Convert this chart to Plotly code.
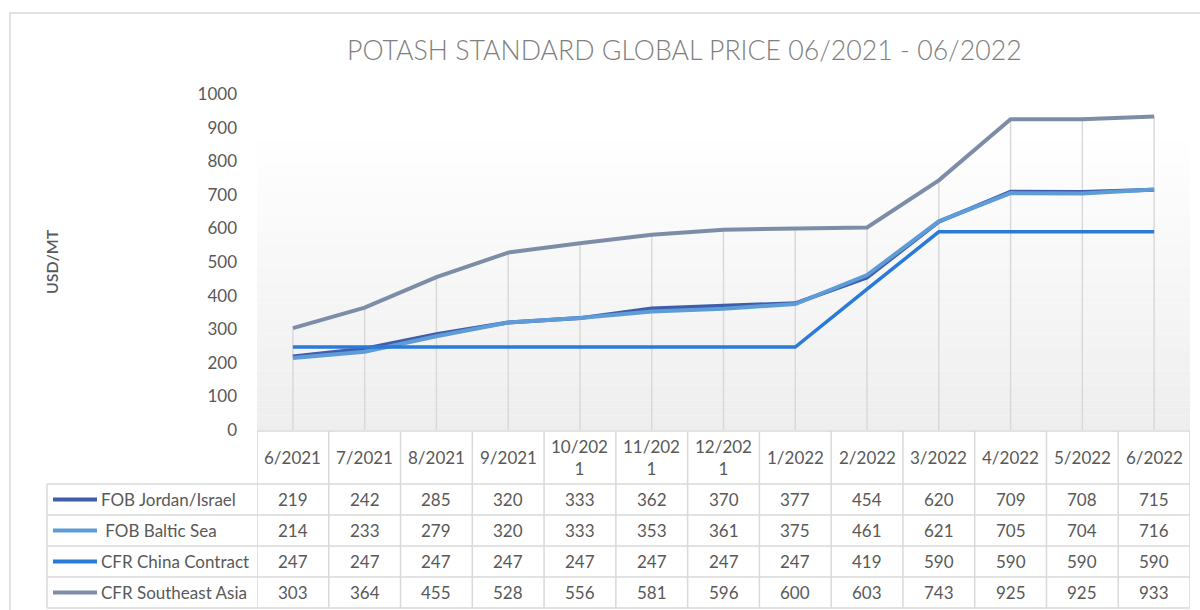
import plotly.graph_objects as go

# ---------------- data ----------------
months = ["6/2021", "7/2021", "8/2021", "9/2021", "10/2021", "11/2021", "12/2021",
          "1/2022", "2/2022", "3/2022", "4/2022", "5/2022", "6/2022"]
series_names = ["FOB Jordan/Israel", " FOB Baltic Sea", "CFR China Contract", "CFR Southeast Asia"]
fob_jordan = [219, 242, 285, 320, 333, 362, 370, 377, 454, 620, 709, 708, 715]
fob_baltic = [214, 233, 279, 320, 333, 353, 361, 375, 461, 621, 705, 704, 716]
cfr_china = [247, 247, 247, 247, 247, 247, 247, 247, 419, 590, 590, 590, 590]
cfr_sea = [303, 364, 455, 528, 556, 581, 596, 600, 603, 743, 925, 925, 933]
y_ticks = [0, 100, 200, 300, 400, 500, 600, 700, 800, 900, 1000]

series = [fob_jordan, fob_baltic, cfr_china, cfr_sea]
colors = ["#3F5DAA", "#5E9CD7", "#2A7AD8", "#7D8DA8"]
widths = [4, 4, 3.5, 4]

FONT = "Lato"
TXT = "#595959"
GRID = "#D9D9D9"

W, H = 1200, 610
L, R, T, B = 257, 10, 94, 180
PH = H - T - B  # plot height px
PW = W - L - R


def py(p):
    """pixel y -> paper y"""
    return (H - B - p) / PH


def px(p):
    """pixel x -> paper x"""
    return (p - L) / PW


xs = list(range(len(months)))
fig = go.Figure()

# drop lines (from the highest series value down to the axis)
dx, dy = [], []
for i in xs:
    top = max(s[i] for s in series)
    dx += [i, i, None]
    dy += [0, top, None]
fig.add_trace(go.Scatter(x=dx, y=dy, mode="lines", line=dict(color=GRID, width=1.5),
                         hoverinfo="skip", showlegend=False))

for name, vals, c, w in zip(series_names, series, colors, widths):
    fig.add_trace(go.Scatter(x=xs, y=vals, mode="lines", name=name.strip(),
                             line=dict(color=c, width=w), showlegend=False))

shapes = []
# outer chart border
shapes.append(dict(type="rect", xref="paper", yref="paper", x0=px(10), x1=px(1210),
                   y0=py(620), y1=py(13), line=dict(color=GRID, width=1.5), layer="below"))

# gradient plot-area background
n = 40
g_top, g_bot = 133, 430
for k in range(n):
    y0p = g_top + (g_bot - g_top) * k / n
    y1p = g_top + (g_bot - g_top) * (k + 1) / n
    t = (k + 0.5) / n
    v = int(round(255 - (255 - 238) * t))
    shapes.append(dict(type="rect", xref="x", yref="paper", x0=-0.5, x1=12.5,
                       y0=py(y1p), y1=py(y0p), line=dict(width=0),
                       fillcolor=f"rgb({v},{v},{v})", layer="below"))

# table geometry (pixels)
hdr_top, hdr_bot = 431, 484
row_lines = [484, 515, 546, 577, 608]
leg_left = 47

# axis / header top line
shapes.append(dict(type="line", xref="x", yref="paper", x0=-0.5, x1=12.5,
                   y0=py(hdr_top), y1=py(hdr_top), line=dict(color=GRID, width=1.5)))
# horizontal row lines
for r in row_lines:
    shapes.append(dict(type="line", xref="paper", yref="paper", x0=px(leg_left), x1=1,
                       y0=py(r), y1=py(r), line=dict(color=GRID, width=1.5)))
# vertical column lines
for i in range(len(months) + 1):
    shapes.append(dict(type="line", xref="x", yref="paper", x0=i - 0.5, x1=i - 0.5,
                       y0=py(row_lines[-1]), y1=py(hdr_top), line=dict(color=GRID, width=1.5)))
# legend column left border
shapes.append(dict(type="line", xref="paper", yref="paper", x0=px(leg_left), x1=px(leg_left),
                   y0=py(row_lines[-1]), y1=py(row_lines[0]), line=dict(color=GRID, width=1.5)))

annotations = []
# header labels
for i, m in enumerate(months):
    lab = m if len(m) <= 6 else m[:6] + "<br>" + m[6:]
    annotations.append(dict(x=i, xref="x", y=py((hdr_top + hdr_bot) / 2), yref="paper",
                            text=lab, showarrow=False, font=dict(family=FONT, size=17, color=TXT),
                            xanchor="center", yanchor="middle"))
# rows
for r, (name, vals, c) in enumerate(zip(series_names, series, colors)):
    yc = (row_lines[r] + row_lines[r + 1]) / 2
    shapes.append(dict(type="line", xref="paper", yref="paper", x0=px(53), x1=px(97),
                       y0=py(yc), y1=py(yc), line=dict(color=c, width=4)))
    annotations.append(dict(x=px(99), xref="paper", y=py(yc), yref="paper", text=name,
                            showarrow=False, xanchor="left", yanchor="middle",
                            font=dict(family=FONT, size=17, color=TXT)))
    for i, v in enumerate(vals):
        annotations.append(dict(x=i, xref="x", y=py(yc), yref="paper", text=str(v),
                                showarrow=False, xanchor="center", yanchor="middle",
                                font=dict(family=FONT, size=17, color=TXT)))

# title
annotations.append(dict(x=px(684), xref="paper", y=py(50), yref="paper",
                        text="POTASH STANDARD GLOBAL PRICE 06/2021 - 06/2022",
                        showarrow=False, xanchor="center", yanchor="middle",
                        font=dict(family=FONT, size=26.7, color="#7F7F7F", weight=300)))
# y-axis title
annotations.append(dict(x=px(51), xref="paper", y=py(262), yref="paper", text="USD/MT",
                        textangle=-90, showarrow=False, xanchor="center", yanchor="middle",
                        font=dict(family=FONT, size=16, color=TXT, weight=600)))

fig.update_layout(
    width=W, height=H,
    margin=dict(l=L, r=R, t=T, b=B, autoexpand=False),
    paper_bgcolor="white", plot_bgcolor="rgba(0,0,0,0)",
    shapes=shapes, annotations=annotations, showlegend=False,
    xaxis=dict(range=[-0.5, 12.5], showticklabels=False, showgrid=False, zeroline=False,
               showline=False, fixedrange=True),
    yaxis=dict(range=[0, 1000], tickvals=y_ticks, showgrid=False, zeroline=False,
               showline=False, ticklabelstandoff=19,
               tickfont=dict(family=FONT, size=17, color=TXT)),
)

fig.write_html("out.html", config={"displayModeBar": False},
               post_script="document.body.style.margin='0';")
